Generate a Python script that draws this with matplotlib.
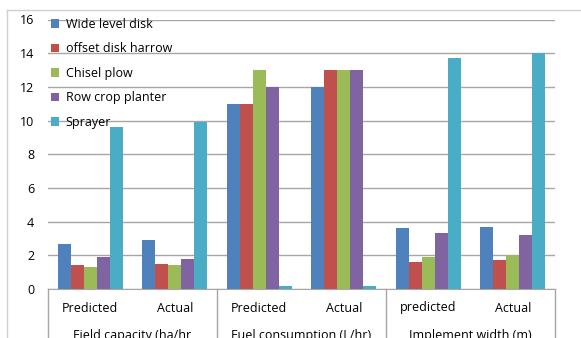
import matplotlib.pyplot as plt
from matplotlib.lines import Line2D
import numpy as np

plt.rcParams['font.family'] = ['Open Sans', 'DejaVu Sans']

sub_labels = ["Predicted", "Actual", "Predicted", "Actual", "predicted", "Actual"]
group_labels = ["Field capacity (ha/hr", "Fuel consumption (L/hr)", "Implement width (m)"]
series = ["Wide level disk", "offset disk harrow", "Chisel plow", "Row crop planter", "Sprayer"]

wide_level_disk = [2.7, 2.9, 11, 12, 3.6, 3.7]
offset_disk_harrow = [1.4, 1.5, 11, 13, 1.6, 1.7]
chisel_plow = [1.3, 1.4, 13, 13, 1.9, 2.0]
row_crop_planter = [1.9, 1.8, 12, 13, 3.3, 3.2]
sprayer = [9.6, 9.9, 0.2, 0.2, 13.7, 14.0]

values = [wide_level_disk, offset_disk_harrow, chisel_plow, row_crop_planter, sprayer]
colors = ["#4F81BD", "#C0504D", "#9BBB59", "#8064A2", "#4BACC6"]

W, H = 581, 338
fig = plt.figure(figsize=(W / 100, H / 100), dpi=100)
ax = fig.add_axes([48 / W, (H - 289) / H, (555 - 48) / W, (289 - 19.5) / H])

x = np.arange(len(sub_labels)) + 0.5
bw = 0.154
for i, (name, vals, c) in enumerate(zip(series, values, colors)):
    ax.bar(x + (i - 2) * bw, vals, bw, color=c, label=name, zorder=3)

ax.set_xlim(0, 6)
ax.set_ylim(0, 16)
ax.set_yticks(range(0, 17, 2))
ax.yaxis.grid(True, color="#A6A6A6", linewidth=1)
ax.set_axisbelow(True)
for s in ["top", "right", "left"]:
    ax.spines[s].set_visible(False)
ax.spines["bottom"].set_color("#A6A6A6")
ax.tick_params(axis="y", length=0, labelsize=9, pad=10)
ax.tick_params(axis="x", length=0, labelsize=9, pad=9)
ax.set_xticks(x)
ax.set_xticklabels(sub_labels)

# group labels and separators under the axis
for g, lab in enumerate(group_labels):
    ax.text(2 * g + 1, -0.174, lab, transform=ax.get_xaxis_transform(),
            ha="center", va="center", fontsize=9)
for xs in [0, 2, 4, 6]:
    ax.plot([xs, xs], [0, -0.2], transform=ax.get_xaxis_transform(),
            color="#A6A6A6", linewidth=1, clip_on=False)

# chart area border
fig.add_artist(Line2D([7 / W, 1], [(H - 10) / H] * 2, color="#D0D0D0", linewidth=1))
fig.add_artist(Line2D([7 / W] * 2, [0, (H - 10) / H], color="#D0D0D0", linewidth=1))

ax.legend(loc="upper left", bbox_to_anchor=(0.0, 1.015), frameon=False,
          fontsize=9, handlelength=0.7, handleheight=0.7, handletextpad=0.5,
          labelspacing=0.92, borderaxespad=0, borderpad=0.2)

fig.savefig("out.png", dpi=100)
